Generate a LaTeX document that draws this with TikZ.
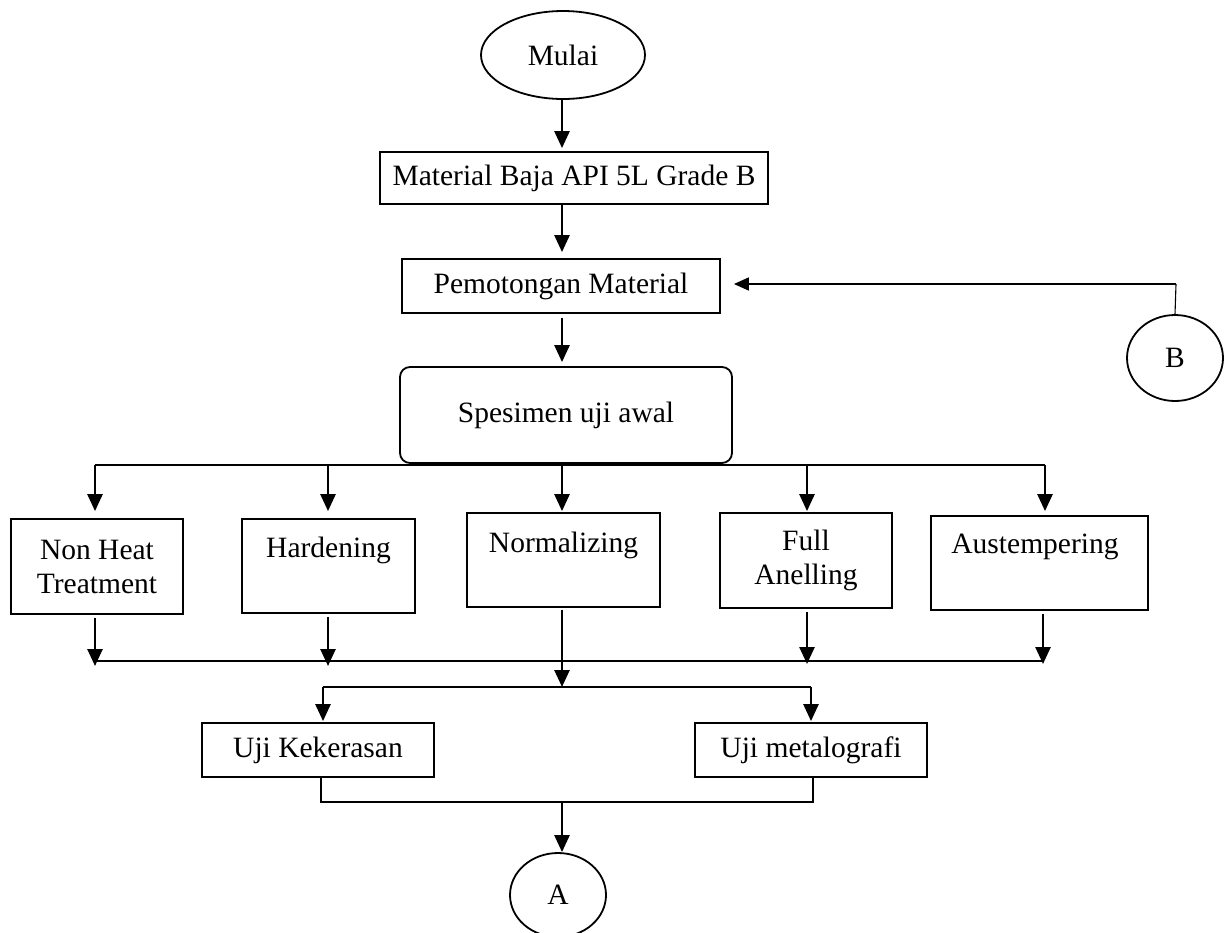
\documentclass[tikz,border=0pt]{standalone}
\usepackage{fontspec}
\setmainfont{Liberation Serif}
\usetikzlibrary{arrows.meta,shapes.geometric,calc}
\begin{document}
\begin{tikzpicture}[x=1pt,y=-1pt,
  every node/.style={font=\fontsize{29.5}{34}\selectfont},
  box/.style={draw,rectangle,line width=1.8pt,inner sep=0pt,align=center},
  oval/.style={draw,ellipse,line width=1.8pt,inner sep=0pt},
  txt/.style={inner sep=0pt,align=center},
  arr/.style={line width=2.6pt,-{Triangle[length=17pt,width=15pt]}},
  bus/.style={line width=2.2pt},
  midline/.style={line width=1.7pt},
  thinline/.style={line width=1.1pt}]
\useasboundingbox (0,0) rectangle (1231,932);
\clip (0,0) rectangle (1231,932);

% main column
\node[oval,minimum width=164,minimum height=88] (start) at (563,55) {Mulai};
\node[box,minimum width=388,minimum height=52] (mat) at (574,178) {Material Baja API 5L Grade B};
\node[box,minimum width=318,minimum height=54] (cut) at (561,286) {Pemotongan Material};
\node[box,rounded corners=10pt,minimum width=332,minimum height=96] (spec) at (566,415) {Spesimen uji awal};

% treatment boxes
\node[box,minimum width=172,minimum height=95] (nht) at (97,566.5) {Non Heat\\Treatment};
\node[box,minimum width=173,minimum height=94] (hard) at (328.5,566) {};
\node[txt] (hardT) at (328.5,550) {Hardening};
\node[box,minimum width=193,minimum height=94] (norm) at (563.5,560) {};
\node[txt] (normT) at (563.5,545) {Normalizing};
\node[box,minimum width=172,minimum height=95] (full) at (806,560.5) {Full\\Anelling};
\node[box,minimum width=217,minimum height=94] (aust) at (1039.5,563) {};
\node[txt] (austT) at (1035,547) {Austempering};

% tests
\node[box,minimum width=232,minimum height=54] (uk) at (318,750) {Uji Kekerasan};
\node[box,minimum width=232,minimum height=54] (um) at (811,750) {Uji metalografi};

% off-page connectors
\node[oval,minimum width=96,minimum height=84] (A) at (558,895) {A};
\node[oval,minimum width=96,minimum height=86] (B) at (1175,358) {B};

% junction points
\coordinate (cx) at (562,0);
\coordinate (split) at (562,465);
\coordinate (topL) at (95,465);
\coordinate (topH) at (328,465);
\coordinate (topF) at (807,465);
\coordinate (topR) at (1045,465);
\coordinate (botL) at (95,661);
\coordinate (botH) at (328,661);
\coordinate (botF) at (807,661);
\coordinate (botR) at (1043,661);
\coordinate (split2) at (562,687);
\coordinate (lK) at (323,687);
\coordinate (rM) at (811,687);
\coordinate (jK) at (321,802);
\coordinate (jM) at (813,802);
\coordinate (jA) at (562,802);
\coordinate (bend) at (1176,284);

% main column arrows
\draw[arr,shorten >=3pt] (cx |- start.south) -- (cx |- mat.north);
\draw[arr,shorten >=6pt] (cx |- mat.south) -- (cx |- cut.north);
\draw[arr,shorten >=4pt] ([yshift=-4pt]cx |- cut.south) -- (cx |- spec.north);

% split to treatments
\draw[thinline] (cx |- spec.south) -- (split);
\draw[bus] (topL) -- (topR);
\draw[arr,shorten >=7pt] (topL) -- (topL |- nht.north);
\draw[arr,shorten >=7pt] (topH) -- (topH |- hard.north);
\draw[arr,shorten >=1pt] (split) -- (split |- norm.north);
\draw[arr,shorten >=1pt] (topF) -- (topF |- full.north);
\draw[arr,shorten >=4pt] (topR) -- (topR |- aust.north);

% merge of treatments
\draw[arr] ([yshift=-3pt]botL |- nht.south) -- ([yshift=-5pt]botL);
\draw[arr] ([yshift=-3pt]botH |- hard.south) -- ([yshift=-5pt]botH);
\draw[arr] ([yshift=-3pt]botF |- full.south) -- ([yshift=-3pt]botF);
\draw[arr] ([yshift=-3pt]botR |- aust.south) -- ([yshift=-3pt]botR);
\draw[bus] (botL) -- (botR);
\draw[arr] ([yshift=-2pt]split2 |- norm.south) -- (split2);

% split to tests
\draw[midline] (lK) -- (rM);
\draw[arr,shorten >=1pt] (lK) -- (lK |- uk.north);
\draw[arr,shorten >=1pt] (rM) -- (rM |- um.north);

% merge of tests
\draw[thinline] (jK |- uk.south) -- (jK) -- (jM) -- (jM |- um.south);
\draw[arr] (jA) -- (jA |- A.north);

% return from B
\draw[thinline] (B.north) -- (bend);
\draw[midline,-{Triangle[length=15pt,width=13pt]}] (bend) -- ([xshift=13pt]cut.east |- bend);
\end{tikzpicture}
\end{document}
